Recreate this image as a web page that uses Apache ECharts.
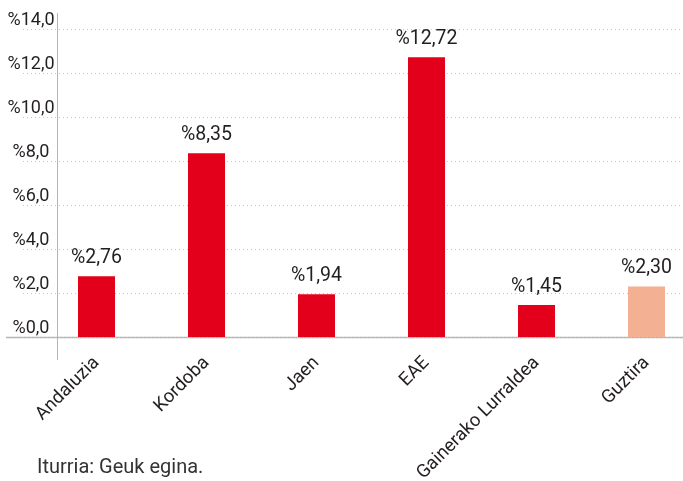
<!DOCTYPE html>
<html>
<head>
<meta charset="utf-8">
<script src="https://cdn.jsdelivr.net/npm/echarts@6/dist/echarts.min.js"></script>
<style>
  html, body { margin: 0; padding: 0; background: #fff; }
  #chart { width: 683px; height: 481px; }
</style>
</head>
<body>
<div id="chart"></div>
<script>
// categories + values (printed labels)
var categories = ["Andaluzia", "Kordoba", "Jaen", "EAE", "Gainerako Lurraldea", "Guztira"];
var values = [2.76, 8.35, 1.94, 12.72, 1.45, 2.30];
var barColors = ["#e2001a", "#e2001a", "#e2001a", "#e2001a", "#e2001a", "#f4b092"];
var yMin = 0, yMax = 14, yStep = 2;
var sourceText = "Iturria: Geuk egina.";

var textColor = "#231f20";
var fontFamily = "Roboto, 'Noto Sans', sans-serif";

function pct(v, d) {
  return "%" + v.toFixed(d).replace(".", ",");
}

var chart = echarts.init(document.getElementById("chart"), null, { renderer: "canvas" });

chart.setOption({
  animation: false,
  textStyle: { fontFamily: fontFamily },
  grid: [
    // grid 0 only carries the dotted gridlines (they run under the y labels)
    { left: 23, right: 0, top: 29, bottom: 144, outerBoundsMode: "none" },
    // grid 1 holds the bars, last band runs past the right edge
    { left: 41.5, width: 660, top: 29, bottom: 144, outerBoundsMode: "none" }
  ],
  xAxis: [
    { gridIndex: 0, type: "value", show: false },
    {
      gridIndex: 1,
      type: "category",
      data: categories,
      axisLine: { show: false },
      axisTick: { show: false },
      axisLabel: {
        rotate: 45,
        margin: 23,
        fontSize: 18.5,
        color: textColor,
        fontFamily: fontFamily
      }
    }
  ],
  yAxis: [
    {
      gridIndex: 0,
      type: "value",
      min: yMin, max: yMax, interval: yStep,
      axisLine: { show: false },
      axisTick: { show: false },
      axisLabel: { show: false },
      splitLine: { lineStyle: { color: "#c4c4c4", type: [1, 3], width: 1 } }
    },
    {
      gridIndex: 1,
      type: "value",
      min: yMin, max: yMax, interval: yStep,
      axisLine: { show: false },
      axisTick: { show: false },
      splitLine: { show: false },
      axisLabel: {
        align: "center",
        verticalAlign: "bottom",
        lineHeight: 18,
        margin: 10.5,
        fontSize: 18,
        color: textColor,
        fontFamily: fontFamily,
        formatter: function (v) { return pct(v, 1); }
      }
    }
  ],
  series: [
    {
      type: "bar",
      xAxisIndex: 1,
      yAxisIndex: 1,
      barWidth: 37,
      data: values.map(function (v, i) {
        return { value: v, itemStyle: { color: barColors[i] } };
      }),
      label: {
        show: true,
        position: "top",
        distance: 8,
        fontSize: 19.5,
        color: textColor,
        fontFamily: fontFamily,
        formatter: function (p) { return pct(p.value, 2); }
      }
    }
  ],
  graphic: [
    // vertical axis line, runs a bit past the plot at both ends
    { type: "line", shape: { x1: 57.5, y1: 13, x2: 57.5, y2: 360 }, style: { stroke: "#b5b5b5", lineWidth: 1 }, silent: true },
    // baseline
    { type: "line", shape: { x1: 6, y1: 337.5, x2: 683, y2: 337.5 }, style: { stroke: "#b5b5b5", lineWidth: 1.5 }, silent: true },
    {
      type: "text",
      left: 37,
      top: 458,
      style: { text: sourceText, fontSize: 20, fill: "#333", fontFamily: fontFamily }
    }
  ]
});
</script>
</body>
</html>
